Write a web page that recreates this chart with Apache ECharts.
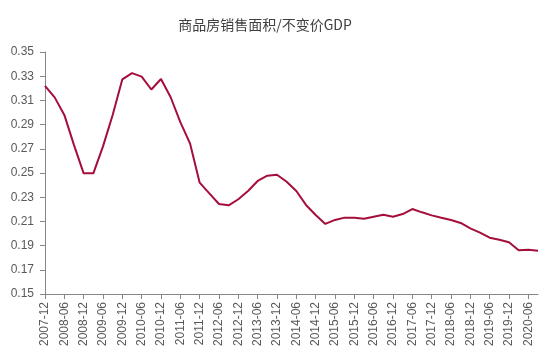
<!DOCTYPE html>
<html>
<head>
<meta charset="utf-8">
<script src="https://cdn.jsdelivr.net/npm/echarts@6/dist/echarts.min.js"></script>
<style>html,body{margin:0;padding:0;background:#fff;}#c{width:554px;height:359px;}</style>
</head>
<body>
<div id="c"></div>
<script>
const titleText = '商品房销售面积/不变价GDP';
const categories = (function(){
  const out = [];
  const q = ['03','06','09','12'];
  out.push('2007-12');
  for (let y = 2008; y <= 2020; y++) {
    for (const m of q) {
      if (y === 2020 && m === '12') break;
      out.push(y + '-' + m);
    }
  }
  return out;
})();
const ratio = [
  0.322, 0.3125, 0.298, 0.273, 0.2497, 0.2497, 0.272, 0.298, 0.3274, 0.3325,
  0.3296, 0.319, 0.3277, 0.3126, 0.292, 0.2745, 0.242, 0.2332, 0.2244, 0.2233,
  0.2283, 0.2351, 0.2434, 0.2478, 0.2486, 0.2428, 0.2351, 0.2236, 0.2153, 0.2079,
  0.2112, 0.2131, 0.213, 0.2122, 0.2139, 0.2155, 0.2139, 0.2161, 0.2202, 0.2175,
  0.215, 0.213, 0.2112, 0.2087, 0.2043, 0.2007, 0.1965, 0.1949, 0.1927, 0.1861,
  0.1866, 0.1858
];
const yTicks = [0.15, 0.17, 0.19, 0.21, 0.23, 0.25, 0.27, 0.29, 0.31, 0.33, 0.35];

const chart = echarts.init(document.getElementById('c'), null, {renderer: 'canvas'});
const labelFont = '"Liberation Sans", Arial, sans-serif';
chart.setOption({
  animation: false,
  backgroundColor: '#ffffff',
  title: {
    text: titleText,
    left: 260,
    top: 13,
    textAlign: 'center',
    textStyle: {
      fontFamily: '"Noto Sans CJK SC", sans-serif',
      fontSize: 14,
      fontWeight: 'normal',
      color: '#404040'
    }
  },
  grid: {left: 45, right: 16, top: 52, bottom: 65, containLabel: false},
  xAxis: {
    type: 'category',
    data: categories,
    boundaryGap: false,
    axisLine: {lineStyle: {color: '#868686', width: 1}},
    axisTick: {show: true, interval: 1, length: 5, lineStyle: {color: '#868686'}},
    axisLabel: {
      interval: 1,
      rotate: 90,
      margin: 8,
      color: '#595959',
      fontSize: 12,
      fontFamily: labelFont
    },
    splitLine: {show: false}
  },
  yAxis: {
    type: 'value',
    min: 0.15,
    max: 0.35,
    axisLine: {show: true, lineStyle: {color: '#868686', width: 1}},
    axisTick: {show: true, length: 5, inside: false, customValues: yTicks, lineStyle: {color: '#868686'}},
    axisLabel: {
      customValues: yTicks,
      margin: 11,
      color: '#595959',
      fontSize: 12,
      fontFamily: labelFont,
      formatter: v => v.toFixed(2)
    },
    splitLine: {show: false}
  },
  series: [{
    type: 'line',
    data: ratio,
    symbol: 'none',
    smooth: false,
    lineStyle: {color: '#A50E3A', width: 2}
  }]
});
</script>
</body>
</html>
